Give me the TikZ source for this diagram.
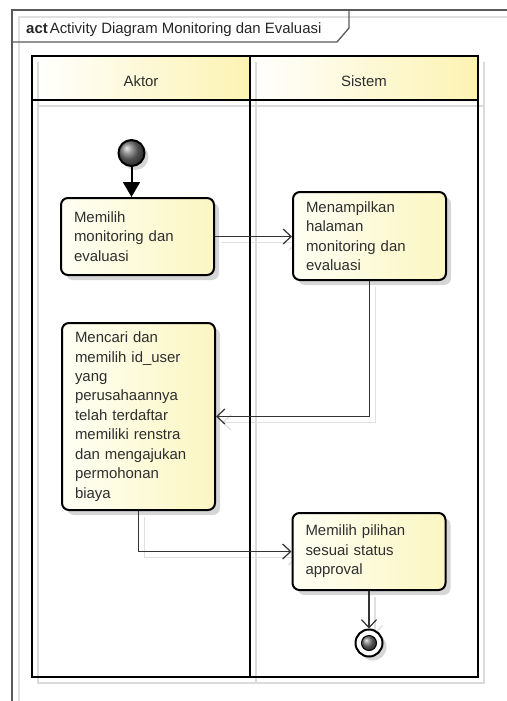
\documentclass[tikz,border=0pt]{standalone}
\usepackage{fontspec}
\setmainfont{Liberation Sans}
\usetikzlibrary{arrows.meta,shadows,backgrounds,calc}

\definecolor{laneyellow}{HTML}{FCF3B2}
\definecolor{boxcream}{HTML}{FFFFF4}
\definecolor{boxyellow}{HTML}{FBF6C2}
\definecolor{inkgray}{HTML}{2E2E2E}

\begin{document}
\begin{tikzpicture}[x=1bp,y=-1bp,
  font=\fontsize{15}{19.5}\selectfont,
  frameline/.style={draw=black!65, line width=1.3bp},
  frameshadow/.style={draw=black!12, line width=1.5bp},
  laneline/.style={draw=black, line width=2.6bp},
  laneshadow/.style={draw=black!14, line width=2.6bp},
  lanehead/.style={left color=white, right color=laneyellow},
  lanelabel/.style={anchor=base, inner sep=0pt, text=inkgray},
  activity/.style={draw=black, line width=2bp, rounded corners=7bp,
    left color=boxcream, right color=boxyellow,
    text width=127bp, inner xsep=13bp, inner ysep=0pt, align=left,
    text=inkgray,
    drop shadow={shadow xshift=5bp, shadow yshift=-5bp, fill=black!16, opacity=1}},
  initialnode/.style={circle, minimum size=26bp, inner sep=0pt, draw=black,
    line width=2bp, ball color=black!55,
    drop shadow={shadow xshift=4bp, shadow yshift=-4bp, fill=black!16, opacity=1}},
  finalring/.style={circle, minimum size=27bp, inner sep=0pt, draw=black,
    line width=2bp, fill=white,
    drop shadow={shadow xshift=4bp, shadow yshift=-4bp, fill=black!16, opacity=1}},
  finaldot/.style={circle, minimum size=15bp, inner sep=0pt, draw=black,
    line width=1bp, ball color=black!55},
  flow/.style={draw=black!80, line width=1.2bp,
    -{Straight Barb[length=8bp,width=15bp]}},
  flowshadow/.style={draw=black!12, line width=1.4bp,
    -{Straight Barb[length=8bp,width=15bp]},
    transform canvas={shift={(6bp,-6bp)}}},
  startflow/.style={draw=black, line width=2bp,
    -{Triangle[length=15bp,width=17bp]}}
]
\useasboundingbox (0,0) rectangle (507,701);

% diagram frame with its name tab
\draw[frameshadow] (19,701) -- (19,17) -- (507,17);
\draw[frameline] (12,701) -- (12,10) -- (507,10);
\draw[frameline] (12,42) -- (337,42) -- (349,28) -- (349,10);
\node[anchor=base west, inner sep=0pt, text=black!85] (title) at (26,33.5)
  {\textbf{act}\hspace{2bp}Activity Diagram Monitoring dan Evaluasi};

% swimlane headers
\shade[lanehead] (32,56) rectangle (250,100);
\shade[lanehead] (250,56) rectangle (478,100);

% swimlane shadows
\draw[laneshadow] (38,62) -- (38,683) -- (484,683) -- (484,62);
\draw[laneshadow] (256,62) -- (256,683);
\draw[laneshadow] (38,106) -- (484,106);

% swimlane borders
\draw[laneline] (32,56) rectangle (478,677);
\draw[laneline] (250,56) -- (250,677);
\draw[laneline] (32,100) -- (478,100);

\node[lanelabel] (aktor) at (141,87) {Aktor};
\node[lanelabel] (sistem) at (364,87) {Sistem};

% activities
\node[initialnode] (start) at (131.5,153) {};
\node[activity, minimum height=77bp] (b1) at (137.5,236.5)
  {Memilih\\monitoring dan\\evaluasi};
\node[activity, minimum height=88bp] (b2) at (369.5,236)
  {Menampilkan\\halaman\\monitoring dan\\evaluasi};
\node[activity, minimum height=187bp] (b3) at (138.5,416.5)
  {Mencari dan\\memilih id\_user\\yang\\perusahaannya\\telah terdaftar\\memiliki renstra\\dan mengajukan\\permohonan\\biaya};
\node[activity, minimum height=77bp] (b4) at (369,551.5)
  {Memilih pilihan\\sesuai status\\approval};
\node[finalring] (end) at (369,643) {};
\node[finaldot] (endin) at (end.center) {};

% control flows
\begin{scope}[on background layer]
  \draw[flowshadow] (b1.east) -- (b1.east -| b2.west);
  \draw[flowshadow] (b2.south) |- (b3.east);
  \draw[flowshadow] (b3.south) |- (b4.west);
  \draw[flowshadow] (b4.south) -- (end.north);
\end{scope}
\draw[startflow] (start.south) -- (start.south |- b1.north);
\draw[flow] (b1.east) -- (b1.east -| b2.west);
\draw[flow] (b2.south) |- (b3.east);
\draw[flow] (b3.south) |- (b4.west);
\draw[flow] (b4.south) -- (end.north);
\end{tikzpicture}
\end{document}
